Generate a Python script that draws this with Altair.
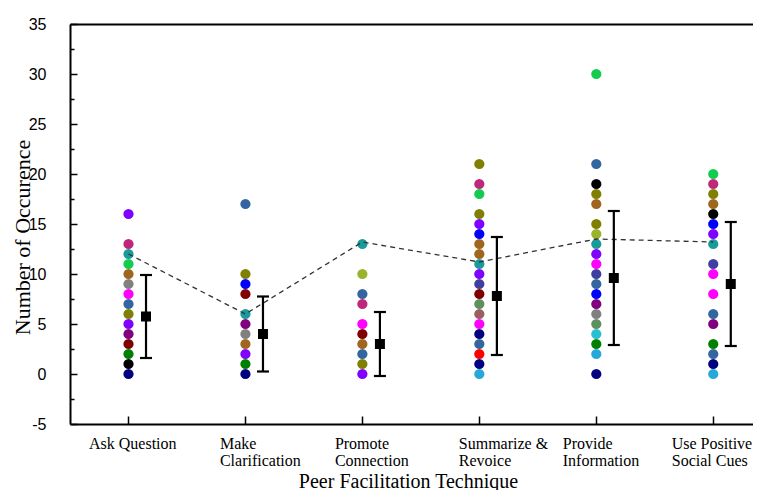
import json
import altair as alt
import pandas as pd

# ---------------- data ----------------
categories = ["Ask Question", "Make Clarification", "Promote Connection",
              "Summarize & Revoice", "Provide Information", "Use Positive Social Cues"]
label_lines = [["Ask Question"], ["Make", "Clarification"], ["Promote", "Connection"],
               ["Summarize &", "Revoice"], ["Provide", "Information"], ["Use Positive", "Social Cues"]]

NAVY, BLACK, GREEN, MAROON, PURPLE = "#000080", "#000000", "#008000", "#800000", "#800080"
VIOLET, OLIVE, STEEL, MAGENTA, GRAY = "#8000FF", "#808000", "#3366A0", "#FF00FF", "#808080"
BROWN, LIME, TEAL, ROSE, BLUE = "#A0661E", "#11CC4E", "#1A9A9A", "#C0267A", "#0000FF"
YGREEN, SLATE, SAGE, ROSYB, RED = "#99B32B", "#3F3F9F", "#5F9060", "#9A6060", "#FF0000"
SKY, TURQ = "#28A8D8", "#26C0D0"

ask_vals = [16, 13, 12, 11, 10, 9, 8, 7, 6, 5, 4, 3, 2, 1, 0]
ask_cols = [VIOLET, ROSE, TEAL, LIME, BROWN, GRAY, MAGENTA, STEEL, OLIVE, VIOLET, PURPLE, MAROON, GREEN, BLACK, NAVY]
make_vals = [17, 10, 9, 8, 6, 5, 4, 3, 2, 1, 0]
make_cols = [STEEL, OLIVE, BLUE, MAROON, TEAL, PURPLE, GRAY, BROWN, VIOLET, GREEN, NAVY]
prom_vals = [13, 10, 8, 7, 5, 4, 3, 2, 1, 0]
prom_cols = [TEAL, YGREEN, STEEL, ROSE, MAGENTA, MAROON, BROWN, STEEL, OLIVE, VIOLET]
summ_vals = [21, 19, 18, 16, 15, 14, 13, 12, 11, 10, 9, 8, 7, 6, 5, 4, 3, 2, 1, 0]
summ_cols = [OLIVE, ROSE, LIME, OLIVE, VIOLET, BLUE, BROWN, BROWN, TEAL, VIOLET, SLATE, MAROON, SAGE, ROSYB,
             MAGENTA, NAVY, STEEL, RED, NAVY, SKY]
prov_vals = [30, 21, 19, 18, 17, 15, 14, 13, 12, 11, 10, 9, 8, 7, 6, 5, 4, 3, 2, 0]
prov_cols = [LIME, STEEL, BLACK, OLIVE, BROWN, OLIVE, YGREEN, TEAL, VIOLET, MAGENTA, SLATE, STEEL, BLUE, PURPLE,
             GRAY, SAGE, TURQ, GREEN, SKY, NAVY]
use_vals = [20, 19, 18, 17, 16, 15, 14, 13, 11, 10, 8, 6, 5, 3, 2, 1, 0]
use_cols = [LIME, ROSE, OLIVE, BROWN, BLACK, BLUE, VIOLET, TEAL, SLATE, MAGENTA, MAGENTA, STEEL, PURPLE, GREEN,
            STEEL, NAVY, SKY]

means = [5.75, 4.0, 3.0, 7.8, 9.6, 9.0]
sds = [4.15, 3.75, 3.2, 5.9, 6.7, 6.2]
trend = [12.0, 6.0, 13.2, 11.2, 13.5, 13.2]

# style: label start offsets (px) relative to tick
label_dx = [-40, -26, -28, -21, -34, -42]

# ---------------- tables ----------------
all_vals = [ask_vals, make_vals, prom_vals, summ_vals, prov_vals, use_vals]
all_cols = [ask_cols, make_cols, prom_cols, summ_cols, prov_cols, use_cols]
rows = []
for i, (vs, cs) in enumerate(zip(all_vals, all_cols)):
    for v, c in zip(vs, cs):
        rows.append({"pos": i + 1, "val": v, "col": c})
dots_df = pd.DataFrame(rows)
stats_df = pd.DataFrame({"pos": list(range(1, 7)), "mean": means, "sd": sds})
trend_df = pd.DataFrame({"pos": list(range(1, 7)), "val": trend})

xscale = alt.Scale(domain=[0.5, 6.34], nice=False, zero=False)
yscale = alt.Scale(domain=[-5, 35], nice=False, zero=False)

yaxis = alt.Axis(
    values=[-5 + 2.5 * k for k in range(17)],
    labelExpr="datum.value % 5 === 0 ? '' + datum.value : ''",
    grid=False, tickSize=alt.ExprRef("datum.value % 5 === 0 ? -7 : -4"), labelPadding=31,
    labelFont="Liberation Sans", labelFontSize=16, labelColor="black",
    domainColor="black", domainWidth=2, tickColor="black", tickWidth=1.5,
    title="Number of Occurence", titleFont="Liberation Serif", titleFontSize=22,
    titleFontWeight="normal", titleColor="black", titleAngle=-90,
    titleX=-48, titleY=213, titleAlign="center", titleBaseline="middle",
)

label_expr = json.dumps(label_lines) + "[datum.value - 1]"
xaxis = alt.Axis(
    values=list(range(1, 7)), labelExpr=label_expr, grid=False,
    tickSize=alt.ExprRef("-8"), labelPadding=19, labelAlign="left", labelBaseline="top",
    labelOffset=alt.ExprRef(json.dumps(label_dx) + "[datum.value - 1]"),
    labelFont="Liberation Serif", labelFontSize=16, labelLineHeight=17, labelColor="black",
    domainColor="black", domainWidth=2, tickColor="black", tickWidth=1.5,
    title="Peer Facilitation Technique", titleFont="Liberation Serif", titleFontSize=20,
    titleFontWeight="normal", titleColor="black", titleX=338, titleY=57,
    titleAlign="center", titleBaseline="middle",
)
topaxis = alt.Axis(orient="top", labels=False, ticks=False, title=None, grid=False,
                   domainColor="black", domainWidth=2)

dots = alt.Chart(dots_df).mark_circle(size=105, opacity=1).encode(
    x=alt.X("pos:Q", scale=xscale, axis=xaxis),
    y=alt.Y("val:Q", scale=yscale, axis=yaxis),
    color=alt.Color("col:N", scale=None),
)

line = alt.Chart(trend_df).mark_line(color="#333333", strokeWidth=1.3, strokeDash=[5, 4]).encode(
    x=alt.X("pos:Q", scale=xscale, axis=topaxis),
    y=alt.Y("val:Q", scale=yscale, axis=yaxis),
)

base = alt.Chart(stats_df).transform_calculate(
    bx="datum.pos + 0.15", lo="datum.mean - datum.sd", hi="datum.mean + datum.sd"
)
rule = base.mark_rule(color="black", strokeWidth=2.2).encode(
    x=alt.X("bx:Q", scale=xscale, axis=None),
    y=alt.Y("lo:Q", scale=yscale, axis=yaxis),
    y2="hi:Q",
)
cap_lo = base.mark_tick(color="black", orient="horizontal", size=12, thickness=2.2, opacity=1).encode(
    x=alt.X("bx:Q", scale=xscale, axis=None),
    y=alt.Y("lo:Q", scale=yscale, axis=yaxis),
)
cap_hi = base.mark_tick(color="black", orient="horizontal", size=12, thickness=2.2, opacity=1).encode(
    x=alt.X("bx:Q", scale=xscale, axis=None),
    y=alt.Y("hi:Q", scale=yscale, axis=yaxis),
)
mean_pt = base.mark_point(shape="square", filled=True, size=100, color="black", opacity=1).encode(
    x=alt.X("bx:Q", scale=xscale, axis=None),
    y=alt.Y("mean:Q", scale=yscale, axis=yaxis),
)

chart = alt.layer(dots, line, rule, cap_lo, cap_hi, mean_pt).resolve_axis(x="independent").properties(
    width=683, height=400, autosize="none",
    padding={"left": 62, "top": 16, "right": 0, "bottom": 66},
    background="white",
).configure_view(stroke=None)

chart.save("out.html", embed_options={"renderer": "svg", "actions": False})
